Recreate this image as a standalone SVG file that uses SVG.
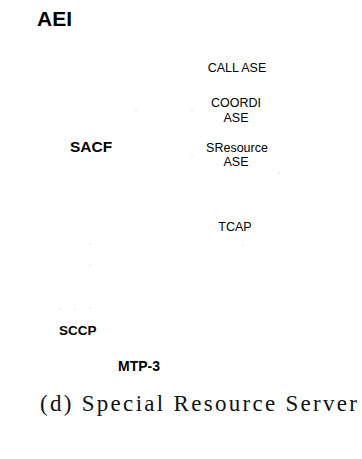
<svg xmlns="http://www.w3.org/2000/svg" width="362" height="459" viewBox="0 0 362 459">
<style>
.b{font-family:"Liberation Sans",Arial,sans-serif;font-weight:bold;fill:#000}
.n{font-family:"Liberation Sans",Arial,sans-serif;fill:#000;font-size:12.5px;text-anchor:middle}
.cap{font-family:"Liberation Serif","Times New Roman",serif;font-size:23px;fill:#111}
.d{fill:#bbb}
</style>
<rect width="362" height="459" fill="#fff"/>
<g id="aei"><text class="b" x="37" y="26" font-size="21">AEI</text></g>
<g id="call-ase"><text class="n" x="237" y="72">CALL ASE</text></g>
<g id="coordi-ase"><text class="n" x="236" y="107">COORDI</text><text class="n" x="236" y="122">ASE</text></g>
<g id="sacf"><text class="b" x="70" y="152" font-size="15.5">SACF</text></g>
<g id="sresource-ase"><text class="n" x="237" y="152">SResource</text><text class="n" x="236" y="166">ASE</text></g>
<g id="tcap"><text class="n" x="235" y="231">TCAP</text></g>
<g id="sccp"><text class="b" x="59" y="335" font-size="13.5">SCCP</text></g>
<g id="mtp3"><text class="b" x="118" y="371" font-size="14">MTP-3</text></g>
<g id="connectors">
<circle class="d" cx="136" cy="110" r="0.6"/>
<circle class="d" cx="192" cy="110" r="0.6"/>
<circle class="d" cx="192" cy="155" r="0.6"/>
<circle class="d" cx="279" cy="173" r="0.6"/>
<circle class="d" cx="90" cy="244" r="0.6"/>
<circle class="d" cx="90" cy="265" r="0.6"/>
<circle class="d" cx="243" cy="245" r="0.6"/>
<circle class="d" cx="60" cy="309" r="0.6"/>
<circle class="d" cx="75" cy="309" r="0.6"/>
<circle class="d" cx="90" cy="308" r="0.6"/>
</g>
<text class="cap" x="40" y="411" textLength="317" lengthAdjust="spacing">(d) Special Resource Server</text>
</svg>
